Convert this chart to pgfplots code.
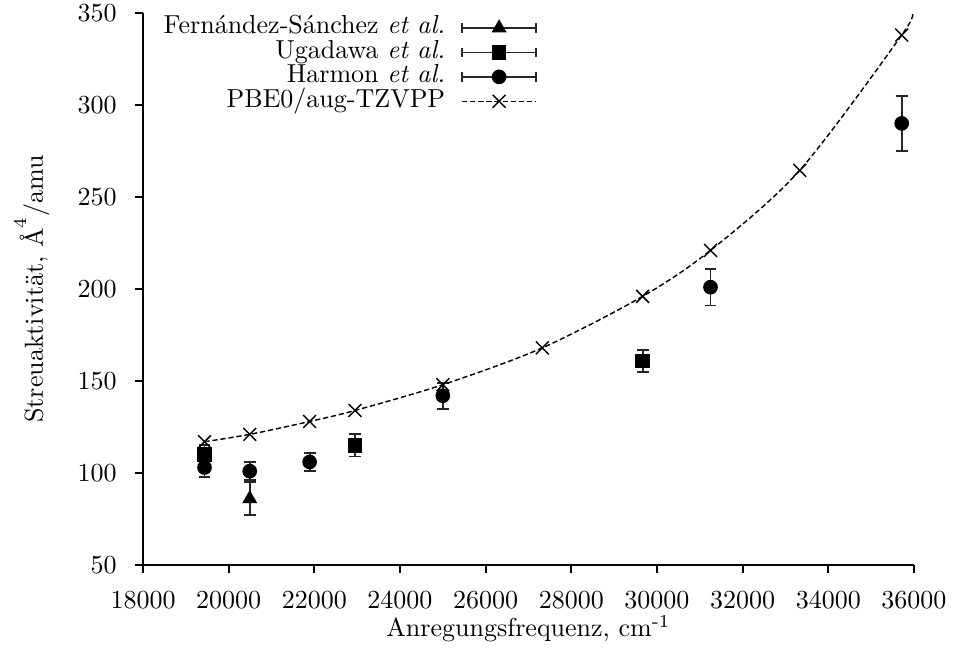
\documentclass[border=0pt]{standalone}
\usepackage{pgfplots}
\pgfplotsset{compat=1.18}
\pgfplotsset{
  errlegend/.style={legend image code/.code={
    \draw[black!85, line width=0.7pt] (0pt,0pt)--(28.4pt,0pt);
    \draw[black!85, line width=0.7pt] (0pt,-1.8pt)--(0pt,1.8pt);
    \draw[black!85, line width=0.7pt] (28.4pt,-1.8pt)--(28.4pt,1.8pt);
    \draw[##1] plot coordinates {(14.2pt,0pt)};
  }},
  linelegend/.style={legend image code/.code={
    \draw[black, line width=0.55pt, dash pattern=on 2pt off 1.1pt] (0pt,0pt)--(28.4pt,0pt);
    \draw[black, line width=0.55pt] plot[mark=x, mark size=3.5pt] coordinates {(14.2pt,0pt)};
  }},
}
\begin{document}
\begin{tikzpicture}
\path[use as bounding box] (-55pt,-36.9pt) rectangle (311.9pt,217.3pt);
\begin{axis}[
  at={(0pt,0pt)}, anchor=south west,
  scale only axis, width=296.5pt, height=212.3pt,
  xmin=18000, xmax=36000, ymin=50, ymax=350,
  axis x line=bottom, axis y line=left,
  axis line style={-, line width=0.8pt},
  tick align=outside, major tick length=3.1pt,
  tick style={line width=0.8pt, black},
  xtick={18000,20000,...,36000}, ytick={50,100,...,350},
  scaled x ticks=false,
  /pgf/number format/set thousands separator={},
  xticklabel style={yshift=-3.5pt},
  yticklabel style={xshift=-3.5pt},
  xlabel={Anregungsfrequenz, cm\textsuperscript{-1}},
  ylabel={Streuaktivität, $\mbox{\AA}^4$/amu},
  xlabel style={at={(axis description cs:0.5,0)}, anchor=base, yshift=-27.5pt},
  ylabel style={at={(axis description cs:-0.1298,0.5)}, anchor=base},
  legend plot pos=right, legend cell align=right,
  legend style={draw=none, fill=none, inner sep=0pt, outer sep=0pt,
    row sep=0pt, column sep=6.2pt,
    nodes={inner sep=0pt, text height=7.0pt, text depth=2.4pt},
    at={(rel axis cs:0.511,0.995)}, anchor=north east},
  every axis plot/.append style={line width=0.55pt},
  error bars/error bar style={black!85, line width=0.7pt},
  error bars/error mark options={rotate=90, mark size=2.3pt, black!85, line width=0.7pt},
]
% Fernandez-Sanchez et al.
\addplot[black, only marks, mark=triangle*, mark size=2.8pt, errlegend,
  error bars/.cd, y dir=both, y explicit,
  ] coordinates {(20492,86) +- (0,9)};
% Ugadawa et al.
\addplot[black, only marks, mark=square*, mark size=2.5pt, errlegend,
  error bars/.cd, y dir=both, y explicit,
  ] coordinates {(19436,110) +- (0,5) (22950,115) +- (0,6) (29665,161) +- (0,6)};
% Harmon et al.
\addplot[black, only marks, mark=*, mark size=2.55pt, errlegend,
  error bars/.cd, y dir=both, y explicit,
  ] coordinates {(19436,103) +- (0,5) (20492,101) +- (0,5) (21890,106) +- (0,5)
    (25000,142) +- (0,7) (31250,201) +- (0,10) (35714,290) +- (0,15)};
% PBE0/aug-TZVPP
\addplot[black, smooth, dash pattern=on 2pt off 1.1pt, mark=x, mark size=3.5pt,
  mark options={solid}, mark indices={1,...,10}, linelegend]
  coordinates {(19436,117) (20492,121) (21890,128) (22950,134) (25000,148)
    (27322,168) (29665,196) (31250,221) (33333,264.5) (35714,338) (35955,350)};
\legend{Fernández-Sánchez \textit{et al.}, Ugadawa \textit{et al.}, Harmon \textit{et al.}, PBE0/aug-TZVPP}
\end{axis}
\end{tikzpicture}
\end{document}
